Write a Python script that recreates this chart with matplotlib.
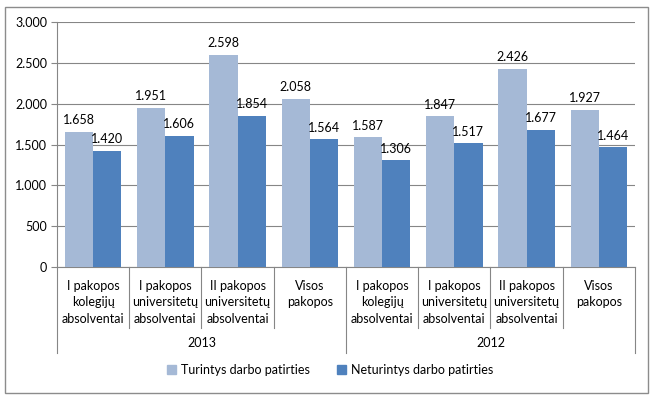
import matplotlib.pyplot as plt
from matplotlib.patches import Rectangle, Patch

plt.rcParams['font.family'] = ['Lato', 'DejaVu Sans']

categories = ['I pakopos\nkolegijų\nabsolventai', 'I pakopos\nuniversitetų\nabsolventai',
              'II pakopos\nuniversitetų\nabsolventai', 'Visos\npakopos']
years = ['2013', '2012']
with_exp = [1658, 1951, 2598, 2058, 1587, 1847, 2426, 1927]
without_exp = [1420, 1606, 1854, 1564, 1306, 1517, 1677, 1464]
series_names = ['Turintys darbo patirties', 'Neturintys darbo patirties']
yticks = [0, 500, 1000, 1500, 2000, 2500, 3000]

light = '#A5B9D6'
dark = '#4F81BD'
grid_c = '#868686'
fs = 9

W, H = 657, 398
fig = plt.figure(figsize=(W / 100, H / 100), dpi=100)
ax_l, ax_r, ax_t, ax_b = 57, 635, 22, 267
ax = fig.add_axes([ax_l / W, 1 - ax_b / H, (ax_r - ax_l) / W, (ax_b - ax_t) / H])

# outer border
fig.patches.append(Rectangle((5 / W, 1 - 393 / H), 643 / W, 386 / H, transform=fig.transFigure,
                             fill=False, edgecolor='#8C8C8C', lw=1))

n = len(with_exp)
bw = 0.39
centers = [i + 0.5 for i in range(n)]
b1 = ax.bar([c - bw / 2 for c in centers], with_exp, width=bw, color=light, zorder=3)
b2 = ax.bar([c + bw / 2 for c in centers], without_exp, width=bw, color=dark, zorder=3)


def fmt(v):
    return f'{v:,}'.replace(',', '.')


for bars, vals in ((b1, with_exp), (b2, without_exp)):
    for b, v in zip(bars, vals):
        ax.annotate(fmt(v), (b.get_x() + b.get_width() / 2, v), xytext=(0, 4),
                    textcoords='offset points', ha='center', va='bottom', fontsize=fs, zorder=4)

ax.set_xlim(0, n)
ax.set_ylim(0, 3000)
ax.set_yticks(yticks)
ax.set_yticklabels([fmt(t) for t in yticks], fontsize=fs)
ax.set_xticks([])
ax.yaxis.grid(True, color=grid_c, lw=0.8)
ax.set_axisbelow(True)
for s in ['top', 'right']:
    ax.spines[s].set_visible(False)
ax.spines['left'].set_color(grid_c)
ax.spines['bottom'].set_color(grid_c)
ax.tick_params(axis='y', length=4, color=grid_c, pad=3)

# category axis (pixels -> data)
upp = 3000 / (ax_b - ax_t)
for i in range(n + 1):
    depth = 86 if i % 4 == 0 else 61
    ax.plot([i, i], [0, -depth * upp], color=grid_c, lw=0.8, clip_on=False)
for i, c in enumerate(centers):
    ax.text(c, -13 * upp, categories[i % 4], ha='center', va='top', fontsize=fs,
            linespacing=1.45)
for j, y in enumerate(years):
    ax.text(j * 4 + 2, -76 * upp, y, ha='center', va='center', fontsize=fs)

handles = [Patch(color=light), Patch(color=dark)]
fig.legend(handles, series_names, loc='center', bbox_to_anchor=(330 / W, 1 - 370 / H), ncol=2,
           frameon=False, fontsize=fs, handlelength=0.7, handleheight=0.7, handletextpad=0.4,
           columnspacing=2.2)

fig.savefig('out.png', dpi=100)
